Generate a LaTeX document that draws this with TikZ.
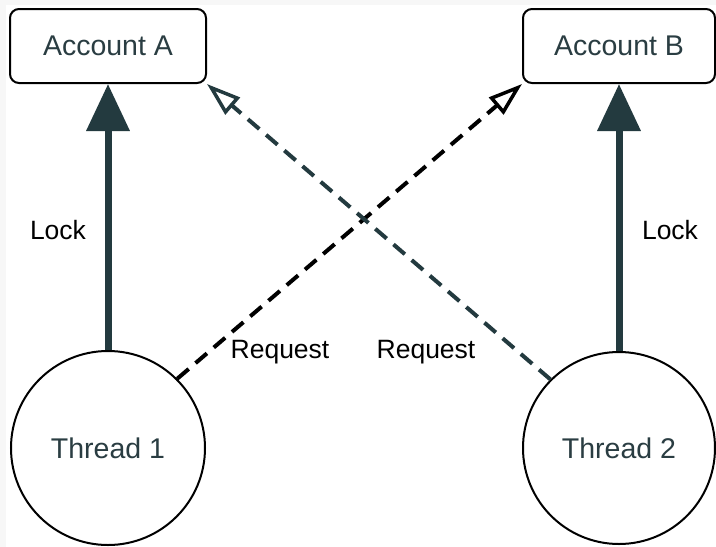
\documentclass[tikz,border=0pt]{standalone}
\usepackage{fontspec}
\setmainfont{Liberation Sans}
\usetikzlibrary{arrows.meta}
\definecolor{slate}{HTML}{233A3F}
\definecolor{txt}{HTML}{2A3D42}
\definecolor{edge}{HTML}{F7F7F7}
\begin{document}
\begin{tikzpicture}[x=1pt,y=-1pt,
  acct/.style={draw=black,line width=2pt,rounded corners=9pt,fill=white,
    minimum height=74pt,inner sep=0pt,text=txt,font=\fontsize{28.5}{32}\selectfont},
  thr/.style={draw=black,line width=2pt,circle,fill=white,inner sep=0pt,
    text=txt,font=\fontsize{28.5}{32}\selectfont},
  lbl/.style={text=black,inner sep=0pt,font=\fontsize{26.5}{30}\selectfont},
  lockarrow/.style={draw=slate,line width=7pt,-{Triangle[width=42pt,length=47pt]}},
  reqarrow/.style={line width=4pt,dash pattern=on 15pt off 9pt,
    -{Triangle[open,width=22pt,length=34pt,line width=3.5pt]}},
]
\useasboundingbox (0,0) rectangle (716,547);
\fill[edge] (0,0) rectangle (716,547);
\fill[white] (6,5) rectangle (716,547);

\node[acct,minimum width=196pt] (A) at (108,46) {Account A};
\node[acct,minimum width=192pt] (B) at (619,46) {Account B};
\node[thr,minimum size=194pt] (T1) at (108,448) {Thread 1};
\node[thr,minimum size=192pt] (T2) at (619,448) {Thread 2};

\draw[lockarrow] (T1.north) -- (A.south);
\draw[lockarrow] (T2.north) -- (B.south);
\draw[reqarrow,draw=black] (T1.north east) -- (B.south west);
\draw[reqarrow,draw=slate] (T2.north west) -- (A.south east);

\node[lbl] (L1) at (58,230) {Lock};
\node[lbl] (L2) at (670,230) {Lock};
\node[lbl] (R1) at (280,352) {Request};
\node[lbl] (R2) at (426,352) {Request};
\end{tikzpicture}
\end{document}
